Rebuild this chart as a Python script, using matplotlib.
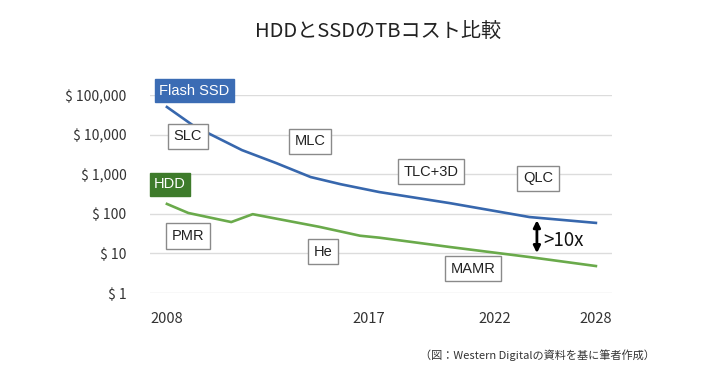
import numpy as np
import matplotlib
matplotlib.use("Agg")
import matplotlib.pyplot as plt

# Data (cost per TB, USD, log scale) -------------------------------
ssd_years = [2008, 2009.2, 2010, 2011.5, 2013.1, 2014.7, 2016.1, 2017.9, 2021.2, 2024.9, 2028]
ssd_cost = [50000, 17400, 10400, 4070, 1910, 850, 560, 355, 186, 83, 59]

hdd_years = [2008, 2009, 2011, 2012, 2015.1, 2017, 2017.9, 2021.2, 2024.9, 2028]
hdd_cost = [178, 105, 62, 98, 47, 28, 25, 14.5, 8.1, 4.8]

ytick_vals = [1, 10, 100, 1000, 10000, 100000]
ytick_labels = ["$ 1", "$ 10", "$ 100", "$ 1,000", "$ 10,000", "$ 100,000"]
xtick_vals = [2008, 2017.4, 2023.3, 2028]
xtick_labels = ["2008", "2017", "2022", "2028"]

tech_labels = ["SLC", "MLC", "TLC+3D", "QLC", "PMR", "He", "MAMR"]
tech_x = [2008.98, 2014.67, 2020.31, 2025.3, 2008.98, 2015.27, 2022.27]
tech_y = [9100, 6900, 1150, 800, 27.5, 11, 4.1]
# -------------------------------------------------------------------

plt.rcParams['font.family'] = ['Liberation Sans', 'Noto Sans CJK JP', 'DejaVu Sans']

blue = "#3767ad"
green = "#6aaa4b"
blue_box = "#3b6cb4"
green_box = "#3e7b2b"

fig = plt.figure(figsize=(7.21, 3.77), dpi=100)
ax = fig.add_axes([0.208, 0.2228, 0.6408, 0.525])

ax.plot(ssd_years, ssd_cost, color=blue, lw=1.9, clip_on=False, zorder=3,
        solid_joinstyle="round")
ax.plot(hdd_years, hdd_cost, color=green, lw=1.9, clip_on=False, zorder=3,
        solid_joinstyle="round")

ax.set_yscale("log")
ax.set_ylim(1, 100000)
ax.set_xlim(2007.21, 2028.75)
ax.yaxis.set_minor_locator(matplotlib.ticker.NullLocator())
ax.set_yticks(ytick_vals, ytick_labels)
ax.set_xticks(xtick_vals, xtick_labels)
ax.tick_params(length=0, labelsize=10, colors="#333333")
ax.tick_params(axis="y", pad=17)
ax.tick_params(axis="x", pad=14, labelsize=10.5)
for lab in ax.get_yticklabels() + ax.get_xticklabels():
    lab.set_family(['Noto Sans CJK JP', 'DejaVu Sans'])
ax.grid(axis="y", color="#dcdcdc", lw=1)
ax.set_axisbelow(True)
for s in ax.spines.values():
    s.set_visible(False)

# Series name boxes
ax.text(2009.28, 10**5.11, "Flash SSD", color="white", fontsize=10.5,
        ha="center", va="center", zorder=5,
        bbox=dict(boxstyle="square,pad=0.3", fc=blue_box, ec=blue_box))
ax.text(2008.14, 10**2.75, "HDD", color="white", fontsize=10.5,
        ha="center", va="center", zorder=5,
        bbox=dict(boxstyle="square,pad=0.3", fc=green_box, ec=green_box))

# Technology labels
for lab, x, y in zip(tech_labels, tech_x, tech_y):
    ax.text(x, y, lab, color="#222222", fontsize=10.5, ha="center", va="center",
            zorder=5,
            bbox=dict(boxstyle="square,pad=0.38", fc="white", ec="#8a8a8a", lw=1))

# >10x gap arrow
ax.annotate("", xy=(2025.25, 10.2), xytext=(2025.25, 69),
            arrowprops=dict(arrowstyle="<|-|>", color="black", lw=2,
                            mutation_scale=10, shrinkA=0, shrinkB=0), zorder=5)
ax.text(2025.55, 21, ">10x", fontsize=13.5, ha="left", va="center", color="#111111",
        family=['Noto Sans CJK JP', 'DejaVu Sans'])

fig.text(0.524, 0.915, "HDDとSSDのTBコスト比較", fontsize=14.5, ha="center",
         va="center", color="#222222", family=['Noto Sans CJK JP', 'DejaVu Sans'])
fig.text(0.908, 0.058, "（図：Western Digitalの資料を基に筆者作成）", fontsize=8,
         ha="right", va="center", color="#333333",
         family=['Noto Sans CJK JP', 'DejaVu Sans'])

fig.savefig("out.png", dpi=100, facecolor="white")
